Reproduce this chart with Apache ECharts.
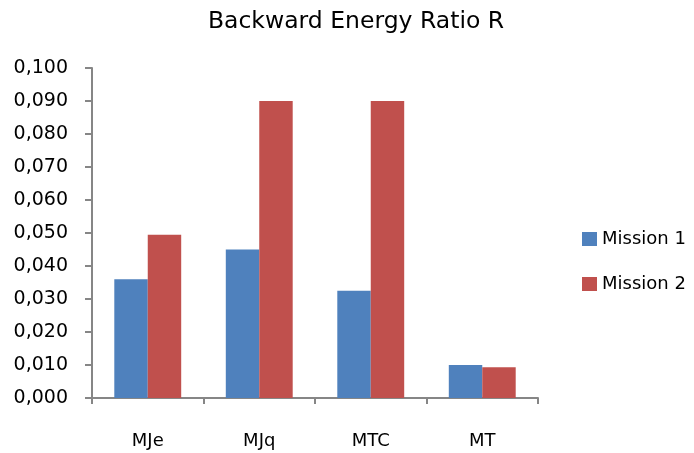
<!DOCTYPE html>
<html>
<head>
<meta charset="utf-8">
<script src="https://cdn.jsdelivr.net/npm/echarts@6/dist/echarts.min.js"></script>
<style>
  html, body { margin: 0; padding: 0; background: #ffffff; }
  #chart { width: 694px; height: 453px; }
</style>
</head>
<body>
<div id="chart"></div>
<script>
// Backward energy ratio per method, two missions
const categories = ['MJe', 'MJq', 'MTC', 'MT'];
const mission1 = [0.036, 0.045, 0.0325, 0.010];
const mission2 = [0.0495, 0.090, 0.090, 0.0093];
const seriesNames = ['Mission 1', 'Mission 2'];
const colors = ['#4F81BD', '#C0504D'];

const FONT = 'DejaVu Sans';
const AXIS_GRAY = '#868686';

const chart = echarts.init(document.getElementById('chart'), null, { renderer: 'canvas' });

chart.setOption({
  animation: false,
  backgroundColor: '#ffffff',
  title: {
    text: 'Backward Energy Ratio R',
    left: 351,
    top: 5,
    textAlign: 'center',
    textStyle: { fontFamily: FONT, fontSize: 23.5, fontWeight: 'normal', color: '#000000' }
  },
  legend: {
    orient: 'vertical',
    left: 577,
    top: 225,
    itemWidth: 15,
    itemHeight: 14,
    itemGap: 27,
    icon: 'rect',
    textStyle: { fontFamily: FONT, fontSize: 18, color: '#000000' },
    data: seriesNames
  },
  grid: { left: 92, right: 156, top: 68, bottom: 55, containLabel: false },
  xAxis: {
    type: 'category',
    data: categories,
    boundaryGap: true,
    axisLine: { lineStyle: { color: AXIS_GRAY, width: 2 } },
    axisTick: { show: true, length: 6, lineStyle: { color: AXIS_GRAY, width: 2 } },
    axisLabel: { margin: 34, fontFamily: FONT, fontSize: 18, color: '#000000' },
    splitLine: { show: false }
  },
  yAxis: {
    type: 'value',
    min: 0,
    max: 0.1,
    interval: 0.01,
    axisLine: { show: true, lineStyle: { color: AXIS_GRAY, width: 2 } },
    axisTick: { show: true, length: 7, lineStyle: { color: AXIS_GRAY, width: 2 } },
    axisLabel: {
      margin: 24,
      fontFamily: FONT,
      fontSize: 19,
      color: '#000000',
      formatter: v => v.toFixed(3).replace('.', ',')
    },
    splitLine: { show: false }
  },
  series: [
    {
      name: seriesNames[0],
      type: 'bar',
      data: mission1,
      itemStyle: { color: colors[0] },
      barGap: '0%',
      barCategoryGap: '40%'
    },
    {
      name: seriesNames[1],
      type: 'bar',
      data: mission2,
      itemStyle: { color: colors[1] },
      barGap: '0%',
      barCategoryGap: '40%'
    }
  ]
});
</script>
</body>
</html>
